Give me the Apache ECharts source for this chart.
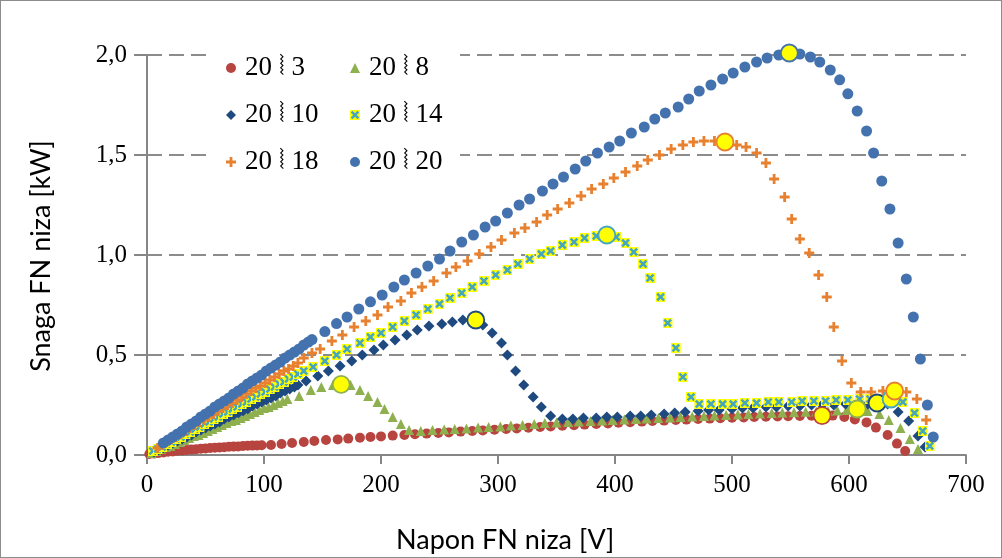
<!DOCTYPE html>
<html>
<head>
<meta charset="utf-8">
<script src="https://cdn.jsdelivr.net/npm/echarts@6/dist/echarts.min.js"></script>
<style>
  html, body { margin: 0; padding: 0; background: #fff; }
  #chart { width: 1002px; height: 558px; box-sizing: border-box; border: 1px solid #8c8c8c; }
</style>
</head>
<body>
<div id="chart"></div>
<script>
// series names as in the legend
var names = ['20 \u299A 3', '20 \u299A 8', '20 \u299A 10', '20 \u299A 14', '20 \u299A 18', '20 \u299A 20'];

// [napon V, snaga kW]
var s3 = [[2,0.005],[6,0.007],[10,0.01],[14,0.013],[18,0.016],[22,0.018],[26,0.021],[30,0.023],[34,0.025],[38,0.027],[42,0.029],[46,0.031],[50,0.033],[54,0.035],[58,0.036],[62,0.038],[66,0.039],[70,0.041],[74,0.042],[78,0.043],[82,0.045],[86,0.046],[90,0.047],[94,0.048],[98,0.049],
  [106,0.05],[115,0.055],[124,0.06],[134,0.065],[143,0.07],[153,0.075],[163,0.078],[172,0.082],[182,0.086],[191,0.09],[200,0.093],[210,0.097],[220,0.1],[229,0.104],[239,0.107],[249,0.11],[258,0.113],[268,0.117],[278,0.12],[287,0.123],[297,0.126],[307,0.13],[316,0.133],[326,0.136],[336,0.14],[345,0.143],[355,0.146],[365,0.149],[374,0.152],[384,0.155],[394,0.158],[403,0.161],[413,0.164],[423,0.167],[432,0.17],[442,0.172],[452,0.175],[461,0.177],[471,0.18],[481,0.182],[490,0.184],[500,0.186],[510,0.188],[519,0.19],[529,0.191],[539,0.193],[548,0.194],[558,0.195],[568,0.196],[577,0.197],[586,0.197],[596,0.19],[605,0.178],[615,0.163],[623,0.137],[633,0.1],[641,0.057],[648,0.02]];

var s8 = [[4,0.01],[8,0.02],[12,0.03],[16,0.04],[20,0.045],[24,0.055],[28,0.065],[32,0.075],[36,0.085],[40,0.095],[44,0.1],[48,0.11],[52,0.12],[56,0.13],[60,0.14],[64,0.15],[68,0.16],[72,0.17],[76,0.175],[80,0.185],[84,0.195],[88,0.205],[92,0.215],[96,0.225],[100,0.235],[104,0.24],[108,0.25],[112,0.26],[116,0.27],[120,0.28],
  [130,0.295],[140,0.325],[149,0.34],[159,0.35],[166,0.353],[174,0.35],[182,0.325],[189,0.295],[197,0.265],[203,0.23],[210,0.19],[217,0.155],[224,0.125],[234,0.12],[244,0.125],[254,0.128],[263,0.13],[273,0.133],[283,0.137],[292,0.14],[302,0.143],[311,0.147],[321,0.15],[331,0.155],[340,0.16],[350,0.163],[360,0.165],[369,0.168],[379,0.17],[389,0.173],[398,0.175],[408,0.178],[418,0.18],[427,0.183],[437,0.185],[447,0.188],[456,0.19],[466,0.193],[476,0.195],[485,0.198],[495,0.2],[505,0.203],[514,0.205],[524,0.208],[534,0.21],[543,0.212],[553,0.214],[563,0.216],[572,0.218],[582,0.22],[590,0.222],[598,0.225],[607,0.23],[616,0.22],[626,0.205],[634,0.175],[644,0.135],[652,0.08],[659,0.03]];

var s10 = [[6,0.015],[10,0.025],[14,0.035],[18,0.05],[22,0.06],[26,0.07],[30,0.08],[34,0.09],[38,0.1],[42,0.115],[46,0.125],[50,0.135],[54,0.145],[58,0.155],[62,0.165],[66,0.18],[70,0.19],[74,0.2],[78,0.21],[82,0.22],[86,0.23],[90,0.245],[94,0.255],[98,0.265],[102,0.275],[106,0.285],[110,0.295],[114,0.31],[118,0.32],[122,0.33],[126,0.34],[129,0.35],
  [136,0.37],[146,0.395],[155,0.42],[165,0.445],[175,0.47],[184,0.5],[194,0.525],[202,0.55],[212,0.575],[222,0.6],[231,0.625],[241,0.645],[252,0.655],[261,0.665],[270,0.675],[281,0.675],[287,0.65],[295,0.61],[303,0.56],[308,0.5],[315,0.42],[322,0.35],[330,0.29],[337,0.24],[345,0.195],[355,0.18],[364,0.18],[373,0.185],[384,0.185],[393,0.19],[402,0.19],[413,0.195],[422,0.195],[431,0.2],[442,0.205],[451,0.21],[460,0.215],[471,0.22],[480,0.225],[489,0.225],[500,0.23],[509,0.235],[518,0.235],[529,0.24],[538,0.24],[548,0.245],[558,0.245],[568,0.25],[577,0.25],[587,0.25],[597,0.255],[606,0.255],[616,0.255],[624,0.26],[633,0.255],[642,0.215],[651,0.17],[659,0.095],[665,0.04]];

var s14 = [[5,0.02],[9,0.03],[13,0.04],[17,0.055],[21,0.065],[25,0.08],[29,0.09],[33,0.105],[37,0.115],[41,0.13],[45,0.14],[49,0.155],[53,0.165],[57,0.18],[61,0.19],[65,0.205],[69,0.215],[73,0.23],[77,0.24],[81,0.255],[85,0.265],[89,0.28],[93,0.29],[97,0.305],[101,0.315],[105,0.33],[109,0.34],[113,0.355],[117,0.365],[121,0.38],[125,0.39],[129,0.405],[134,0.42],
  [142,0.44],[152,0.47],[162,0.5],[171,0.53],[182,0.56],[191,0.59],[200,0.61],[210,0.64],[220,0.67],[230,0.7],[240,0.73],[250,0.755],[259,0.785],[269,0.81],[278,0.84],[288,0.87],[298,0.9],[308,0.925],[317,0.955],[327,0.98],[337,1.005],[345,1.02],[355,1.05],[365,1.065],[374,1.085],[384,1.095],[393,1.1],[401,1.09],[409,1.06],[416,1.015],[424,0.955],[430,0.885],[439,0.79],[445,0.66],[452,0.535],[458,0.39],[465,0.29],[472,0.255],[482,0.255],[492,0.255],[501,0.255],[511,0.26],[521,0.26],[531,0.265],[540,0.265],[551,0.265],[560,0.27],[570,0.27],[580,0.27],[589,0.275],[599,0.275],[609,0.28],[618,0.28],[628,0.28],[636,0.28],[646,0.265],[656,0.21],[663,0.12],[669,0.045]];

var s18 = [[9,0.035],[13,0.05],[17,0.065],[21,0.08],[25,0.09],[29,0.105],[33,0.12],[37,0.135],[41,0.15],[45,0.165],[49,0.175],[53,0.19],[57,0.205],[61,0.22],[65,0.235],[69,0.25],[73,0.26],[77,0.275],[81,0.29],[85,0.305],[89,0.32],[93,0.335],[97,0.345],[101,0.36],[105,0.375],[109,0.39],[113,0.405],[117,0.42],[121,0.43],[125,0.445],[129,0.46],[134,0.485],
  [141,0.51],[148,0.53],[158,0.57],[167,0.6],[177,0.64],[187,0.67],[197,0.7],[206,0.74],[217,0.77],[226,0.81],[235,0.84],[245,0.87],[256,0.91],[264,0.94],[274,0.97],[284,1.005],[294,1.04],[303,1.075],[314,1.11],[323,1.135],[333,1.165],[342,1.2],[351,1.23],[361,1.26],[371,1.295],[380,1.33],[390,1.355],[399,1.385],[409,1.415],[419,1.445],[428,1.475],[438,1.5],[448,1.53],[458,1.55],[467,1.565],[476,1.57],[485,1.57],[494,1.565],[504,1.55],[512,1.54],[521,1.51],[529,1.46],[536,1.38],[545,1.29],[551,1.18],[558,1.08],[566,1.01],[574,0.9],[581,0.79],[587,0.64],[594,0.47],[602,0.36],[610,0.315],[619,0.315],[629,0.32],[639,0.32],[649,0.315],[658,0.28],[666,0.175]];

var s20 = [[14,0.06],[18,0.075],[22,0.09],[26,0.105],[30,0.12],[34,0.14],[38,0.155],[42,0.17],[46,0.19],[50,0.205],[54,0.22],[58,0.24],[62,0.255],[66,0.27],[70,0.285],[74,0.305],[78,0.32],[82,0.335],[86,0.355],[90,0.37],[94,0.385],[98,0.4],[102,0.42],[106,0.435],[110,0.45],[114,0.465],[118,0.485],[122,0.5],[126,0.515],[130,0.53],[134,0.55],[138,0.565],[141,0.577],
  [152,0.617],[162,0.657],[171,0.69],[181,0.73],[191,0.766],[201,0.8],[211,0.84],[220,0.875],[230,0.91],[240,0.945],[250,0.98],[259,1.02],[269,1.065],[279,1.1],[289,1.14],[298,1.17],[308,1.21],[318,1.25],[327,1.28],[338,1.32],[347,1.355],[356,1.39],[366,1.43],[375,1.47],[385,1.51],[395,1.54],[404,1.57],[414,1.61],[425,1.64],[434,1.68],[443,1.71],[454,1.74],[463,1.78],[472,1.82],[482,1.85],[492,1.88],[501,1.91],[511,1.94],[521,1.965],[530,1.985],[540,2.0],[549,2.01],[558,2.005],[567,1.99],[575,1.965],[584,1.925],[592,1.876],[599,1.806],[607,1.72],[615,1.62],[621,1.51],[628,1.37],[635,1.23],[642,1.06],[649,0.88],[655,0.69],[661,0.48],[667,0.25],[672,0.09]];

// maximum power points (yellow markers)
var mpp3 = [[577,0.197]];
var mpp8 = [[166,0.353],[607,0.23]];
var mpp10 = [[281,0.675],[624,0.26]];
var mpp14 = [[393,1.1],[636,0.28]];
var mpp18 = [[494,1.565],[639,0.32]];
var mpp20 = [[549,2.01]];

var xTicks = [0, 100, 200, 300, 400, 500, 600, 700];
var yTicks = [0, 0.5, 1.0, 1.5, 2.0];

var colors = ['#B8443F', '#8FB04F', '#1F4A80', '#46A6C0', '#E8812F', '#4472AE'];
var xSymbol = 'image://data:image/svg+xml;utf8,' + encodeURIComponent(
  '<svg xmlns="http://www.w3.org/2000/svg" width="10" height="10">' +
  '<rect width="10" height="10" fill="#FFFF00"/>' +
  '<path d="M1.6 1.6L8.4 8.4M8.4 1.6L1.6 8.4" stroke="#46A6C0" stroke-width="2.6"/></svg>');
var plusSymbol = 'path://M3.6,0H6.4V3.6H10V6.4H6.4V10H3.6V6.4H0V3.6H3.6Z';
var symbols = ['circle', 'triangle', 'diamond', xSymbol, plusSymbol, 'circle'];
var sizes = [10, 10, 11, 10, 10, 11];

var chart = echarts.init(document.getElementById('chart'));

var dataSets = [s3, s8, s10, s14, s18, s20];
var mppSets = [mpp3, mpp8, mpp10, mpp14, mpp18, mpp20];
var series = [];
for (var i = 0; i < dataSets.length; i++) {
  series.push({
    name: names[i],
    type: 'scatter',
    data: dataSets[i],
    symbol: symbols[i],
    symbolSize: sizes[i],
    clip: false,
    itemStyle: { color: colors[i], opacity: 1 },
    z: 2 + i
  });
}
for (var j = 0; j < mppSets.length; j++) {
  series.push({
    type: 'scatter',
    data: mppSets[j],
    symbol: 'circle',
    symbolSize: 17,
    clip: false,
    itemStyle: { color: '#FFFF00', borderColor: colors[j], borderWidth: 1.8, opacity: 1 },
    z: 20
  });
}

var axisGray = '#868686';
var labelFont = { fontFamily: 'Liberation Serif', fontSize: 25, color: '#000' };

var legendBase = {
  orient: 'vertical',
  top: 52,
  padding: 0,
  itemWidth: 10,
  itemHeight: 10,
  itemGap: 17,
  textStyle: { fontFamily: 'Liberation Serif', fontSize: 27, lineHeight: 30, color: '#000', padding: [0, 0, 0, 4] }
};

var option = {
  animation: false,
  backgroundColor: '#fff',
  grid: { left: 146, right: 35, top: 54, bottom: 102 },
  xAxis: {
    type: 'value',
    min: 0, max: 700, interval: 100,
    splitLine: { show: false },
    axisLine: { lineStyle: { color: axisGray, width: 2 } },
    axisTick: { length: 9, lineStyle: { color: axisGray, width: 2 } },
    axisLabel: Object.assign({ margin: 18, formatter: function (v) { return xTicks.indexOf(v) > -1 ? String(v) : ''; } }, labelFont)
  },
  yAxis: {
    type: 'value',
    min: 0, max: 2, interval: 0.5,
    splitLine: { lineStyle: { color: '#8c8c8c', width: 2, type: [15, 7] } },
    axisLine: { show: true, lineStyle: { color: axisGray, width: 2 } },
    axisTick: { show: true, length: 13, lineStyle: { color: axisGray, width: 2 } },
    axisLabel: Object.assign({ margin: 20, formatter: function (v) { return v.toFixed(1).replace('.', ','); } }, labelFont)
  },
  legend: [
    Object.assign({}, legendBase, { left: 225, data: [names[0], names[2], names[4]] }),
    Object.assign({}, legendBase, { left: 349, data: [names[1], names[3], names[5]] })
  ],
  graphic: [
    { type: 'rect', left: 210, top: 38, shape: { width: 249, height: 145 }, style: { fill: '#fff' }, z: 3 },
    { type: 'text', left: 395, top: 526, style: { text: 'Napon FN niza [V]', font: '27px Lato', fill: '#000' } },
    { type: 'text', x: 40, y: 255, rotation: Math.PI / 2, style: { text: 'Snaga FN niza [kW]', font: '27px Lato', fill: '#000', align: 'center', verticalAlign: 'middle' } }
  ],
  series: series
};

chart.setOption(option);
</script>
</body>
</html>
